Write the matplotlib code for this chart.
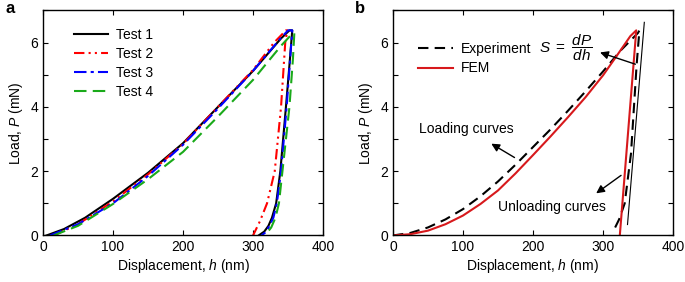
import matplotlib
matplotlib.use('Agg')
import matplotlib.pyplot as plt
from matplotlib.ticker import MultipleLocator

plt.rcParams.update({
    'font.family': 'Liberation Sans',
    'font.size': 10,
    'mathtext.fontset': 'custom',
    'mathtext.rm': 'Liberation Sans',
    'mathtext.it': 'Liberation Sans:italic',
    'axes.linewidth': 1.0,
})

# ---- panel a: four indentation tests (loading + unloading)
t1_h = [5, 30, 60, 100, 150, 200, 250, 300, 340, 352, 356, 352, 347, 339, 333, 327, 322, 316, 308]
t1_p = [0, 0.2, 0.55, 1.14, 1.95, 2.87, 4.0, 5.12, 6.13, 6.38, 6.38, 5.3, 4.0, 2.0, 1.0, 0.55, 0.3, 0.12, 0]

t2_h = [15, 50, 100, 150, 200, 250, 300, 330, 347, 349, 346, 340, 331, 320, 310, 300]
t2_p = [0, 0.35, 1.06, 1.9, 2.85, 4.0, 5.15, 6.0, 6.38, 6.38, 6.0, 4.0, 2.0, 1.0, 0.45, 0]

t3_h = [10, 50, 100, 150, 200, 250, 300, 340, 350, 356, 353, 348, 340, 334, 329, 323, 318, 312]
t3_p = [0, 0.35, 1.0, 1.85, 2.82, 3.95, 5.12, 6.15, 6.38, 6.38, 5.5, 4.0, 2.0, 1.0, 0.55, 0.28, 0.1, 0]

t4_h = [15, 50, 100, 150, 200, 250, 300, 340, 357, 359, 357, 352, 342, 337, 332, 326, 317]
t4_p = [0, 0.3, 0.98, 1.75, 2.6, 3.7, 4.84, 5.9, 6.3, 6.3, 5.5, 4.0, 2.0, 1.0, 0.55, 0.25, 0]

# ---- panel b: experiment vs FEM
exp_h = [0, 25, 50, 75, 100, 125, 150, 175, 200, 225, 250, 275, 300, 325, 350, 352,
         348, 340, 331, 323, 316]
exp_p = [0, 0.08, 0.25, 0.5, 0.82, 1.22, 1.68, 2.2, 2.75, 3.3, 3.88, 4.48, 5.1, 5.75, 6.3, 6.38,
         5.3, 2.55, 1.0, 0.5, 0.19]

fem_h = [0, 25, 50, 75, 100, 125, 150, 175, 200, 225, 250, 275, 300, 320, 339, 347.5, 324]
fem_p = [0, 0.04, 0.15, 0.35, 0.62, 0.98, 1.4, 1.93, 2.5, 3.08, 3.68, 4.3, 4.98, 5.6, 6.2, 6.38, 0]

tan_h = [335, 359]
tan_p = [0.34, 6.63]

fig = plt.figure(figsize=(6.85, 2.82), dpi=100)
ax_a = fig.add_axes([0.0628, 0.165, 0.4088, 0.798])
ax_b = fig.add_axes([0.5737, 0.165, 0.4088, 0.798])

ax_a.plot(t1_h, t1_p, color='black', lw=1.5, label='Test 1')
ax_a.plot(t2_h, t2_p, color='red', lw=1.5, ls=(0, (5, 2, 1, 2, 1, 2)), label='Test 2')
ax_a.plot(t3_h, t3_p, color='blue', lw=1.5, ls=(0, (6, 2, 1.5, 2)), label='Test 3')
ax_a.plot(t4_h, t4_p, color='#1aaa1a', lw=1.5, ls=(0, (6, 3)), label='Test 4')
ax_a.legend(loc='upper left', bbox_to_anchor=(0.085, 0.955), frameon=False, borderpad=0,
            handlelength=2.5, handletextpad=0.55, labelspacing=0.38, fontsize=10)

ax_b.plot(exp_h, exp_p, color='black', lw=1.5, ls=(0, (5, 3)), label='Experiment')
ax_b.plot(fem_h, fem_p, color='#d7191c', lw=1.5, label='FEM')
ax_b.plot(tan_h, tan_p, color='black', lw=0.8)
ax_b.legend(loc='upper left', bbox_to_anchor=(0.065, 0.89), frameon=False, borderpad=0,
            handlelength=2.5, handletextpad=0.55, labelspacing=0.38, fontsize=10)

arrow = dict(arrowstyle='-|>', color='black', lw=1.0, mutation_scale=12)
ax_b.annotate('', xy=(292, 5.72), xytext=(350, 5.3), arrowprops=arrow)
ax_b.text(246, 5.85, r'$S\ =\ \dfrac{dP}{dh}$', ha='center', va='center', fontsize=11)
ax_b.text(105, 3.3, 'Loading curves', ha='center', va='center', fontsize=10)
ax_b.annotate('', xy=(137, 2.9), xytext=(177, 2.38), arrowprops=arrow)
ax_b.text(227, 0.88, 'Unloading curves', ha='center', va='center', fontsize=10)
ax_b.annotate('', xy=(287, 1.26), xytext=(329, 1.92), arrowprops=arrow)

for ax, lab in [(ax_a, 'a'), (ax_b, 'b')]:
    ax.set_xlim(0, 400)
    ax.set_ylim(0, 7)
    ax.set_xticks([0, 100, 200, 300, 400])
    ax.set_yticks([0, 2, 4, 6])
    ax.yaxis.set_minor_locator(MultipleLocator(1))
    ax.tick_params(which='both', direction='in', top=True, right=True,
                   length=3.5, width=0.8, labelsize=10)
    ax.set_xlabel('Displacement, $h$ (nm)', fontsize=10, labelpad=2)
    ax.set_ylabel('Load, $P$ (mN)', fontsize=10, labelpad=4)
    pos = ax.get_position()
    fig.text(pos.x0 - 0.055, 0.995, lab, fontsize=12, fontweight='bold', va='top', ha='left')

fig.savefig('out.png', dpi=100)
